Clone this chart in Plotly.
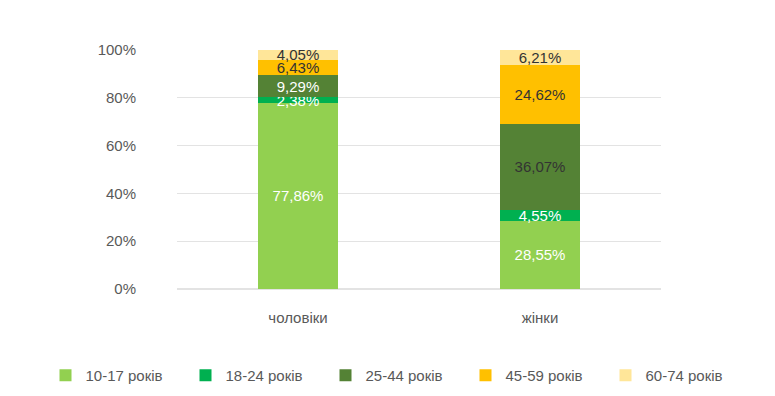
import plotly.graph_objects as go

categories = ["чоловіки", "жінки"]
series_names = ["10-17 років", "18-24 років", "25-44 років", "45-59 років", "60-74 років"]
values = {
    "10-17 років": [77.86, 28.55],
    "18-24 років": [2.38, 4.55],
    "25-44 років": [9.29, 36.07],
    "45-59 років": [6.43, 24.62],
    "60-74 років": [4.05, 6.21],
}
colors = ["#92D050", "#00B050", "#548235", "#FFC000", "#FFE699"]
text_colors = [["white", "white"], ["white", "white"], ["white", "#333333"], ["#333333", "#333333"], ["#333333", "#333333"]]
tick_vals = [0, 20, 40, 60, 80, 100]
tick_text = ["0%", "20%", "40%", "60%", "80%", "100%"]

FONT = "Liberation Sans, sans-serif"
W = 775
ML, MR = 25, 25
PW = W - ML - MR

fig = go.Figure()
for name, col, tc in zip(series_names, colors, text_colors):
    fig.add_trace(go.Bar(
        x=categories, y=values[name], name=name,
        marker=dict(color=col, line=dict(width=0)),
        texttemplate="%{y:.2f}%", textposition="inside",
        insidetextanchor="middle", textangle=0, constraintext="none",
        textfont=dict(color=tc, size=15, family=FONT),
        hoverinfo="skip",
    ))

fig.update_layout(
    barmode="stack",
    width=W, height=396,
    separators=", ",
    paper_bgcolor="white", plot_bgcolor="white",
    margin=dict(l=ML, r=MR, t=42, b=115),
    bargap=0.67,
    font=dict(family=FONT, size=15, color="#595959"),
    legend=dict(orientation="h", x=0.5, xanchor="center",
                yref="container", y=0.03, yanchor="bottom",
                font=dict(size=15, color="#595959"), traceorder="normal",
                itemwidth=30, entrywidth=95, entrywidthmode="pixels"),
    xaxis=dict(domain=[(169 - ML) / PW, (653 - ML) / PW],
               showgrid=False, showline=False, ticks="", ticklabelstandoff=18,
               tickfont=dict(size=15, color="#595959")),
    yaxis=dict(range=[0, 100], tickvals=tick_vals, ticktext=tick_text,
               showgrid=True, gridcolor="#E3E3E3", gridwidth=1, zeroline=True,
               zerolinecolor="#E3E3E3", ticks="", ticklen=0, ticklabelstandoff=40,
               tickfont=dict(size=15, color="#595959")),
)
fig.write_html("out.html")
